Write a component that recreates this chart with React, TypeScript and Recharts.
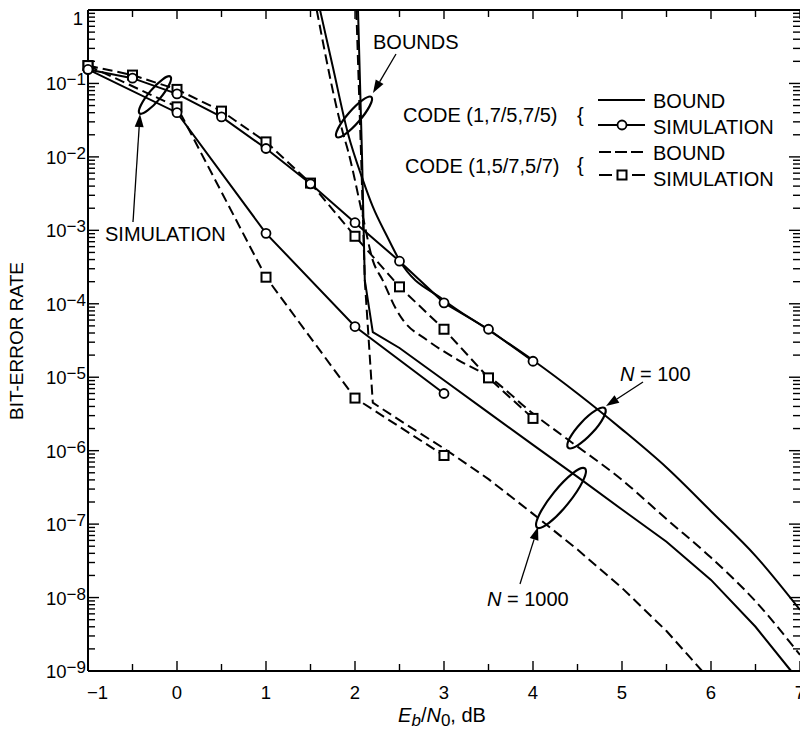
import React from "react";
import { LineChart, Line, XAxis, YAxis } from "recharts";

// Eb/N0 (dB) grid of the simulated points
const simX100 = [-1, -0.5, 0, 0.5, 1, 1.5, 2, 2.5, 3, 3.5, 4];
const simX1000 = [-1, 0, 1, 2, 3];

// simulations, code (1,7/5,7/5)
const sim175N100 = [0.155, 0.118, 0.072, 0.035, 0.013, 0.0043, 0.00127, 3.8e-4, 1.03e-4, 4.5e-5, 1.65e-5];
const sim175N1000 = [0.155, 0.04, 9.1e-4, 4.9e-5, 6.0e-6];
// simulations, code (1,5/7,5/7)
const sim157N100 = [0.175, 0.13, 0.083, 0.042, 0.016, 0.0044, 8.3e-4, 1.7e-4, 4.5e-5, 9.8e-6, 2.75e-6];
const sim157N1000 = [0.175, 0.048, 2.3e-4, 5.2e-6, 8.6e-7];

// bounds, code (1,7/5,7/5)
const bound175N100X = [1.607, 1.75, 1.92, 2.09, 2.2, 2.36, 2.5, 3, 3.5, 4, 4.5, 5, 5.5, 6, 6.5, 7];
const bound175N100 = [1, 0.17, 0.021, 4.8e-3, 2.1e-3, 8.3e-4, 3.9e-4, 1.12e-4, 4.4e-5, 1.7e-5, 6.0e-6, 1.95e-6, 5.9e-7, 1.5e-7, 3.7e-8, 6.8e-9];
const bound175N1000X = [2.034, 2.08, 2.11, 2.2, 2.5, 3, 3.5, 4, 4.5, 5, 5.5, 6, 6.5, 6.9];
const bound175N1000 = [1, 9.1e-3, 2.1e-4, 4.1e-5, 2.5e-5, 9.1e-6, 3.3e-6, 1.2e-6, 4.4e-7, 1.58e-7, 5.75e-8, 1.74e-8, 4.0e-9, 1e-9];
// bounds, code (1,5/7,5/7)
const bound157N100X = [1.57, 1.865, 1.92, 2.09, 2.2, 2.31, 2.47, 2.54, 2.81, 3.15, 3.51, 4, 4.38, 5, 5.5, 6, 6.5, 7];
const bound157N100 = [1, 0.021, 0.0123, 1.5e-3, 3.9e-4, 2.1e-4, 8.1e-5, 6.0e-5, 3.2e-5, 1.74e-5, 1.0e-5, 3.2e-6, 1.45e-6, 4.0e-7, 1.17e-7, 3.5e-8, 8.9e-9, 1.66e-9];
const bound157N1000X = [2.015, 2.07, 2.11, 2.2, 2.5, 3, 3.5, 4, 4.5, 5, 5.5, 5.9];
const bound157N1000 = [1, 9.1e-3, 2.1e-4, 4.5e-6, 2.6e-6, 1.07e-6, 4.1e-7, 1.38e-7, 4.5e-8, 1.35e-8, 3.5e-9, 1e-9];

// axis ticks
const xTicks = [-1, -0.5, 0, 0.5, 1, 1.5, 2, 2.5, 3, 3.5, 4, 4.5, 5, 5.5, 6, 6.5, 7];
const decades = [-9, -8, -7, -6, -5, -4, -3, -2, -1];
const mantissas = [1, 2, 3, 4, 5, 6, 7, 8, 9];
const yTicks = [...decades.flatMap((d) => mantissas.map((m) => m * Math.pow(10, d))), 1];

const FONT = '"Liberation Sans", Arial, Helvetica, sans-serif';
const LW = 2;
const DASH = "10 5";

const pts = (xs: number[], ys: number[]) => xs.map((x, i) => ({ x, y: ys[i] }));

const isDecade = (v: number) => Math.abs(Math.log10(v) - Math.round(Math.log10(v))) < 1e-6;

function LeftTick(props: any) {
  const { x, y, payload } = props;
  const v = payload.value;
  const major = isDecade(v);
  const e = Math.round(Math.log10(v));
  return (
    <g>
      <line x1={x} y1={y} x2={x + (major ? 11 : 7)} y2={y} stroke="#000" strokeWidth={1.4} />
      {major && e === 0 && (
        <text x={x - 5} y={y + 15} textAnchor="end" fontSize={18.5} fill="#000">1</text>
      )}
      {major && e < 0 && (
        <text x={x - 2} y={y + 7} textAnchor="end" fontSize={18.5} fill="#000">
          10<tspan dy={-5} fontSize={17}>{"\u2212" + -e}</tspan>
        </text>
      )}
    </g>
  );
}

function RightTick(props: any) {
  const { x, y, payload } = props;
  const len = isDecade(payload.value) ? 11 : 7;
  return <line x1={x} y1={y} x2={x - len} y2={y} stroke="#000" strokeWidth={1.4} />;
}

function BottomTick(props: any) {
  const { x, y, payload } = props;
  const v = payload.value;
  const major = Number.isInteger(v);
  return (
    <g>
      <line x1={x} y1={y} x2={x} y2={y - (major ? 10 : 7)} stroke="#000" strokeWidth={1.4} />
      {major && (
        <text
          x={v === -1 ? x - 1 : x}
          y={y + 28}
          textAnchor={v === -1 ? "start" : "middle"}
          fontSize={18.5}
          fill="#000"
        >
          {v < 0 ? "\u2212" + -v : String(v)}
        </text>
      )}
    </g>
  );
}

function TopTick(props: any) {
  const { x, y, payload } = props;
  const len = Number.isInteger(payload.value) ? 9 : 7;
  return <line x1={x} y1={y} x2={x} y2={y + len} stroke="#000" strokeWidth={1.4} />;
}

const circleDot = (p: any) => (
  <circle key={`c-${p.index}`} cx={p.cx} cy={p.cy} r={4.5} fill="#fff" stroke="#000" strokeWidth={1.8} />
);
const squareDot = (p: any) => (
  <rect key={`s-${p.index}`} x={p.cx - 4.5} y={p.cy - 4.5} width={9} height={9} fill="#fff" stroke="#000" strokeWidth={2} />
);

function Arrow({ x1, y1, x2, y2 }: { x1: number; y1: number; x2: number; y2: number }) {
  const a = Math.atan2(y2 - y1, x2 - x1);
  const L = 13;
  const W = 4.5;
  const bx = x2 - L * Math.cos(a);
  const by = y2 - L * Math.sin(a);
  const p1 = `${bx + W * Math.sin(a)},${by - W * Math.cos(a)}`;
  const p2 = `${bx - W * Math.sin(a)},${by + W * Math.cos(a)}`;
  return (
    <g>
      <line x1={x1} y1={y1} x2={bx} y2={by} stroke="#000" strokeWidth={1.3} />
      <polygon points={`${x2},${y2} ${p1} ${p2}`} fill="#000" />
    </g>
  );
}

function Ring({ cx, cy, rx, ry, angle }: { cx: number; cy: number; rx: number; ry: number; angle: number }) {
  return (
    <ellipse cx={cx} cy={cy} rx={rx} ry={ry} transform={`rotate(${angle} ${cx} ${cy})`} fill="none" stroke="#000" strokeWidth={2.2} />
  );
}

function Overlay() {
  return (
    <svg width={800} height={734} style={{ position: "absolute", left: 0, top: 0, pointerEvents: "none", fontFamily: FONT }}>
      {/* axis titles */}
      <text transform="rotate(-90 23 341)" x={23} y={341} textAnchor="middle" fontSize={19} fill="#000">
        BIT-ERROR RATE
      </text>
      <text x={442} y={722} textAnchor="middle" fontSize={20} fill="#000">
        <tspan fontStyle="italic">E</tspan>
        <tspan fontStyle="italic" fontSize={17} dy={4}>b</tspan>
        <tspan dy={-4}>/</tspan>
        <tspan fontStyle="italic">N</tspan>
        <tspan fontSize={17} dy={4}>0</tspan>
        <tspan dy={-4}>, dB</tspan>
      </text>

      {/* simulation callout */}
      <Ring cx={155} cy={95} rx={24} ry={6} angle={-50} />
      <Arrow x1={133} y1={222} x2={140} y2={114} />
      <text x={105} y={241} fontSize={20} fill="#000">SIMULATION</text>

      {/* bounds callout */}
      <Ring cx={354} cy={117} rx={26.5} ry={6.5} angle={-49} />
      <Arrow x1={396} y1={54} x2={373} y2={93} />
      <text x={373} y={49} fontSize={20} fill="#000">BOUNDS</text>

      {/* legend */}
      <text x={403} y={122} fontSize={20} fill="#000">CODE (1,7/5,7/5)</text>
      <text x={577} y={122} fontSize={20} fill="#000">{"{"}</text>
      <line x1={598} y1={100} x2={645} y2={100} stroke="#000" strokeWidth={LW} />
      <text x={653} y={108} fontSize={20} fill="#000">BOUND</text>
      <line x1={598} y1={125} x2={645} y2={125} stroke="#000" strokeWidth={LW} />
      <circle cx={622} cy={125} r={4.5} fill="#fff" stroke="#000" strokeWidth={1.8} />
      <text x={653} y={134} fontSize={20} fill="#000">SIMULATION</text>

      <text x={405} y={173} fontSize={20} fill="#000">CODE (1,5/7,5/7)</text>
      <text x={577} y={172} fontSize={20} fill="#000">{"{"}</text>
      <line x1={599} y1={152} x2={645} y2={152} stroke="#000" strokeWidth={LW} strokeDasharray="12 4" />
      <text x={653} y={160} fontSize={20} fill="#000">BOUND</text>
      <line x1={599} y1={175} x2={645} y2={175} stroke="#000" strokeWidth={LW} strokeDasharray="13 20" />
      <rect x={617.5} y={170.5} width={9} height={9} fill="#fff" stroke="#000" strokeWidth={2} />
      <text x={653} y={186} fontSize={20} fill="#000">SIMULATION</text>

      {/* N = 100 */}
      <Ring cx={586.5} cy={428} rx={27} ry={7.5} angle={-47} />
      <Arrow x1={643} y1={382} x2={606} y2={406} />
      <text x={620} y={381} fontSize={20} fill="#000">
        <tspan fontStyle="italic">N</tspan> = 100
      </text>

      {/* N = 1000 */}
      <Ring cx={561} cy={498} rx={38} ry={9} angle={-51} />
      <Arrow x1={520} y1={584} x2={538} y2={527} />
      <text x={487} y={606} fontSize={20} fill="#000">
        <tspan fontStyle="italic">N</tspan> = 1000
      </text>
    </svg>
  );
}

export default function App() {
  return (
    <div
      style={{
        position: "absolute",
        left: 0,
        top: 0,
        width: 800,
        height: 734,
        overflow: "hidden",
        background: "#fff",
        fontFamily: FONT,
      }}
    >
      <LineChart width={810} height={734} margin={{ top: 0, right: 0, bottom: 0, left: 0 }} style={{ fontFamily: FONT }}>
        <XAxis
          dataKey="x"
          type="number"
          domain={[-1, 7]}
          ticks={xTicks}
          interval={0}
          tickSize={0}
          tickMargin={0}
          height={63}
          axisLine={{ stroke: "#000", strokeWidth: 2 }}
          tickLine={false}
          tick={<BottomTick />}
        />
        <XAxis
          xAxisId="top"
          orientation="top"
          dataKey="x"
          type="number"
          domain={[-1, 7]}
          allowDataOverflow
          ticks={xTicks}
          interval={0}
          tickSize={0}
          tickMargin={0}
          height={10}
          axisLine={{ stroke: "#000", strokeWidth: 2 }}
          tickLine={false}
          tick={<TopTick />}
        />
        <YAxis
          type="number"
          scale="log"
          domain={[1e-9, 1]}
          ticks={yTicks}
          interval={0}
          tickSize={0}
          tickMargin={0}
          width={88}
          axisLine={{ stroke: "#000", strokeWidth: 2 }}
          tickLine={false}
          tick={<LeftTick />}
        />
        <YAxis
          yAxisId="right"
          orientation="right"
          type="number"
          scale="log"
          domain={[1e-9, 1]}
          allowDataOverflow
          ticks={yTicks}
          interval={0}
          tickSize={0}
          tickMargin={0}
          width={10}
          axisLine={false}
          tickLine={false}
          tick={<RightTick />}
        />

        {/* bounds */}
        <Line data={pts(bound175N100X, bound175N100)} dataKey="y" type="monotone" stroke="#000" strokeWidth={LW} dot={false} isAnimationActive={false} />
        <Line data={pts(bound157N100X, bound157N100)} dataKey="y" type="monotone" stroke="#000" strokeWidth={LW} strokeDasharray={DASH} dot={false} isAnimationActive={false} />
        <Line data={pts(bound175N1000X, bound175N1000)} dataKey="y" type="linear" stroke="#000" strokeWidth={LW} dot={false} isAnimationActive={false} />
        <Line data={pts(bound157N1000X, bound157N1000)} dataKey="y" type="linear" stroke="#000" strokeWidth={LW} strokeDasharray={DASH} dot={false} isAnimationActive={false} />

        {/* simulations */}
        <Line data={pts(simX1000, sim157N1000)} dataKey="y" type="linear" stroke="#000" strokeWidth={LW} strokeDasharray={DASH} dot={squareDot} isAnimationActive={false} />
        <Line data={pts(simX1000, sim175N1000)} dataKey="y" type="linear" stroke="#000" strokeWidth={LW} dot={circleDot} isAnimationActive={false} />
        <Line data={pts(simX100, sim157N100)} dataKey="y" type="linear" stroke="#000" strokeWidth={LW} strokeDasharray={DASH} dot={squareDot} isAnimationActive={false} />
        <Line data={pts(simX100, sim175N100)} dataKey="y" type="linear" stroke="#000" strokeWidth={LW} dot={circleDot} isAnimationActive={false} />
      </LineChart>
      <Overlay />
    </div>
  );
}
